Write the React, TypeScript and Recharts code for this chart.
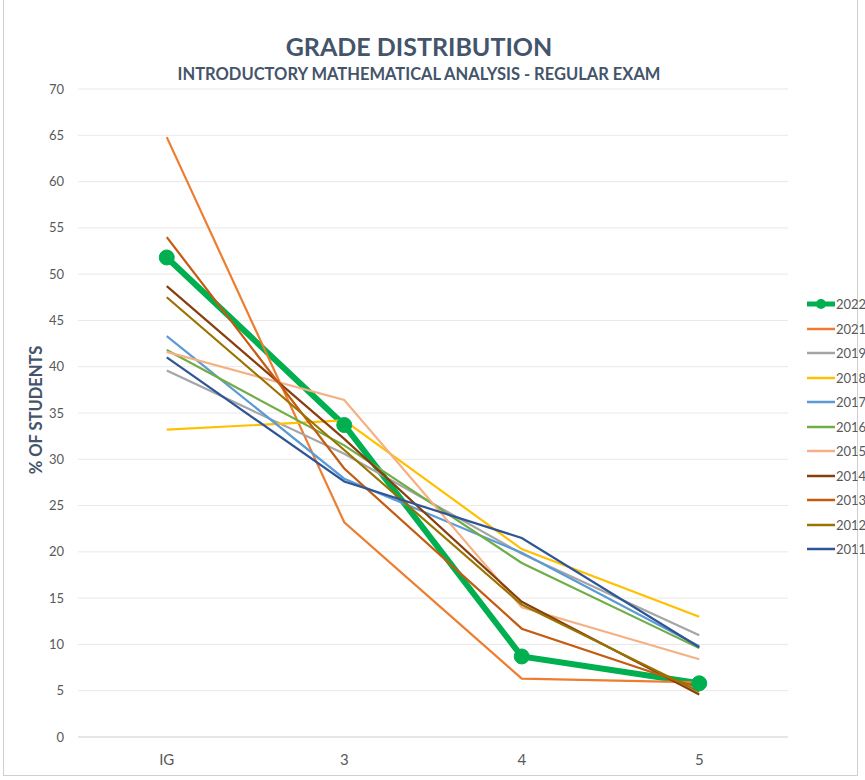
import { CartesianGrid, Line, LineChart, XAxis, YAxis } from "recharts";

const GRADES = ["IG", "3", "4", "5"];
const Y_TICKS = [0, 5, 10, 15, 20, 25, 30, 35, 40, 45, 50, 55, 60, 65, 70];

const Y2022 = [51.8, 33.7, 8.7, 5.8];
const Y2021 = [64.8, 23.2, 6.3, 5.9];
const Y2019 = [39.6, 30.6, 19.8, 11.0];
const Y2018 = [33.2, 34.2, 20.3, 13.0];
const Y2017 = [43.3, 27.9, 19.9, 9.8];
const Y2016 = [41.8, 31.5, 18.8, 9.6];
const Y2015 = [41.6, 36.4, 14.0, 8.4];
const Y2014 = [48.7, 32.2, 14.6, 4.6];
const Y2013 = [54.0, 29.0, 11.7, 5.3];
const Y2012 = [47.5, 31.0, 14.3, 4.9];
const Y2011 = [41.0, 27.6, 21.5, 9.7];

const SERIES = [
  { key: "2022", values: Y2022, color: "#00b050" },
  { key: "2021", values: Y2021, color: "#ed7d31" },
  { key: "2019", values: Y2019, color: "#a5a5a5" },
  { key: "2018", values: Y2018, color: "#ffc000" },
  { key: "2017", values: Y2017, color: "#5b9bd5" },
  { key: "2016", values: Y2016, color: "#70ad47" },
  { key: "2015", values: Y2015, color: "#f4b183" },
  { key: "2014", values: Y2014, color: "#8a3e0e" },
  { key: "2013", values: Y2013, color: "#c55a11" },
  { key: "2012", values: Y2012, color: "#997300" },
  { key: "2011", values: Y2011, color: "#2f5597" },
];

const data = GRADES.map((g, i) => {
  const row: Record<string, string | number> = { grade: g };
  SERIES.forEach((s) => (row[s.key] = s.values[i]));
  return row;
});

const FONT = "Lato, 'Open Sans', sans-serif";
const TEXT = "#595959";
const TITLE = "#44546a";

function LegendBox() {
  return (
    <div style={{ position: "absolute", left: 806, top: 292, fontFamily: FONT, fontSize: 13, color: TEXT }}>
      {SERIES.map((s) => {
        const main = s.key === "2022";
        return (
          <div key={s.key} style={{ display: "flex", alignItems: "center", height: 24.5 }}>
            <svg width={30} height={14}>
              <line x1={1} x2={29} y1={7} y2={7} stroke={s.color} strokeWidth={main ? 5 : 2.5} />
              {main && <circle cx={15} cy={7} r={5} fill={s.color} />}
            </svg>
            <span>{s.key}</span>
          </div>
        );
      })}
    </div>
  );
}

export default function App() {
  return (
    <div
      style={{
        position: "absolute",
        left: 0,
        top: 0,
        width: 865,
        height: 780,
        background: "#fff",
        overflow: "hidden",
      }}
    >
      <div
        style={{
          position: "absolute",
          left: 3,
          top: -2,
          width: 853,
          height: 776,
          border: "1.5px solid #cfcfcf",
        }}
      />
      <div
        style={{
          position: "absolute",
          left: 0,
          width: 838,
          top: 30,
          textAlign: "center",
          fontFamily: FONT,
          fontWeight: 700,
          fontSize: 25,
          color: TITLE,
          lineHeight: "32px",
        }}
      >
        GRADE DISTRIBUTION
      </div>
      <div
        style={{
          position: "absolute",
          left: 0,
          width: 838,
          top: 64,
          textAlign: "center",
          fontFamily: FONT,
          fontWeight: 700,
          fontSize: 16.5,
          color: TITLE,
          lineHeight: "20px",
        }}
      >
        INTRODUCTORY MATHEMATICAL ANALYSIS - REGULAR EXAM
      </div>
      <div
        style={{
          position: "absolute",
          left: 36,
          top: 410,
          transform: "translate(-50%, -50%) rotate(-90deg)",
          whiteSpace: "nowrap",
          fontFamily: FONT,
          fontWeight: 700,
          fontSize: 16.5,
          color: TITLE,
        }}
      >
        % OF STUDENTS
      </div>
      <div style={{ position: "absolute", left: 0, top: 0 }}>
        <LineChart width={865} height={780} data={data} margin={{ top: 89, right: 77, bottom: 0, left: 0 }}>
          <CartesianGrid stroke="#e8e8e8" vertical={false} />
          <XAxis
            dataKey="grade"
            height={43}
            stroke="#d9d9d9"
            padding={{ left: 88.75, right: 88.75 }}
            tickLine={false}
            tickMargin={11}
            tick={{ fill: TEXT, fontSize: 15, fontFamily: FONT }}
          />
          <YAxis
            width={78}
            domain={[0, 70]}
            ticks={Y_TICKS}
            axisLine={false}
            tickLine={false}
            tickMargin={8}
            tick={{ fill: TEXT, fontSize: 13, fontFamily: FONT }}
          />
          {SERIES.map((s) => {
            const main = s.key === "2022";
            return (
              <Line
                key={s.key}
                dataKey={s.key}
                stroke={s.color}
                strokeWidth={main ? 6 : 2.2}
                dot={main ? { r: 7.5, fill: s.color, stroke: s.color, strokeWidth: 1 } : false}
                activeDot={false}
                isAnimationActive={false}
              />
            );
          })}
        </LineChart>
      </div>
      <LegendBox />
    </div>
  );
}
